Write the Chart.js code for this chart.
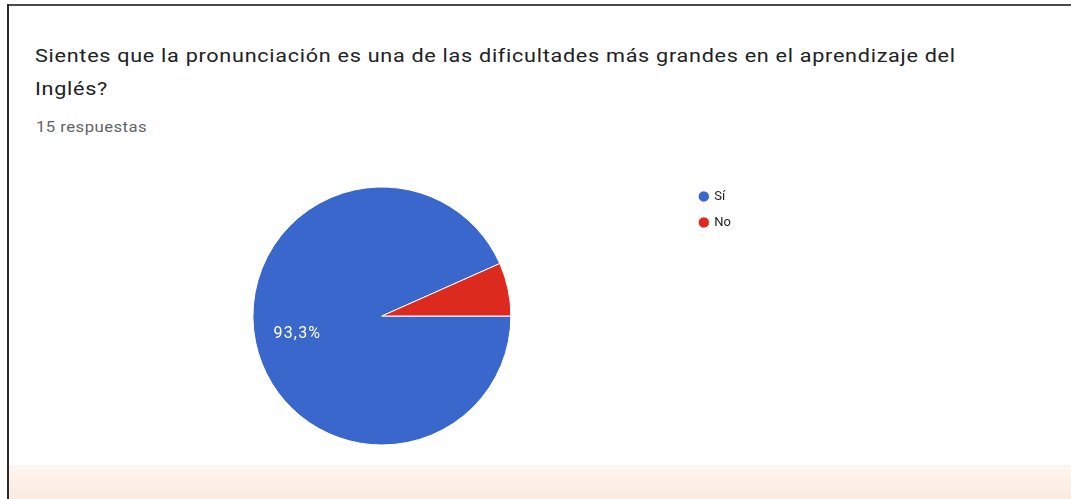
<!DOCTYPE html>
<html>
<head>
<meta charset="utf-8">
<script src="https://cdn.jsdelivr.net/npm/chart.js@4.4.1/dist/chart.umd.min.js"></script>
<style>
    html, body { margin: 0; padding: 0; background: #fff; }
    body { width: 1071px; height: 499px; position: relative; overflow: hidden; font-family: Roboto, Arial, sans-serif; }
    .card-top { position: absolute; left: 7px; top: 4px; right: 0; height: 2px; background: #4a4a4a; }
    .card-left { position: absolute; left: 7px; top: 4px; bottom: 0; width: 2px; background: #2a2a2a; }
    .footer { position: absolute; left: 9px; right: 0; top: 465px; bottom: 0; background: linear-gradient(#fdf6f0, #fbeadf); }
    .title { position: absolute; left: 35px; top: 39px; font-size: 18px; line-height: 33px; color: #202124; letter-spacing: 0.6px; white-space: nowrap; transform: scaleX(1.2); transform-origin: left top; }
    .count { position: absolute; left: 36px; top: 119px; font-size: 14px; line-height: 16px; color: #5f6368; letter-spacing: 0.4px; white-space: nowrap; transform: scaleX(1.19); transform-origin: left top; }
    #chartBox { position: absolute; left: 77px; top: 167px; width: 664px; height: 288px; }
</style>
</head>
<body>
<div class="card-top"></div>
<div class="card-left"></div>
<div class="footer"></div>
<div class="title">Sientes que la pronunciación es una de las dificultades más grandes en el aprendizaje del<br>Inglés?</div>
<div class="count">15 respuestas</div>
<div id="chartBox"><canvas id="pieChart"></canvas></div>

<script>
    // Data
    const labels = ['Sí', 'No'];
    const counts = [14, 1];
    const colors = ['#3a67cc', '#dc2a1f'];

    // Percentage labels inside slices (small slices skipped, like Forms does)
    const sliceLabels = {
        id: 'sliceLabels',
        afterDatasetsDraw(chart) {
            const ctx = chart.ctx;
            const meta = chart.getDatasetMeta(0);
            const total = counts.reduce((a, b) => a + b, 0);
            ctx.save();
            ctx.fillStyle = '#ffffff';
            ctx.font = '16px Roboto, Arial, sans-serif';
            ctx.letterSpacing = '1.2px';
            ctx.textAlign = 'center';
            ctx.textBaseline = 'middle';
            meta.data.forEach((arc, i) => {
                const pct = counts[i] / total * 100;
                if (pct < 10) return;
                const mid = (arc.startAngle + arc.endAngle) / 2;
                const d = arc.outerRadius * 0.67;
                const txt = pct.toFixed(1).replace('.', ',') + '%';
                ctx.fillText(txt, arc.x + Math.cos(mid) * d, arc.y + Math.sin(mid) * d);
            });
            ctx.restore();
        }
    };

    new Chart(document.getElementById('pieChart'), {
        type: 'pie',
        data: {
            labels: labels,
            datasets: [{
                data: counts,
                backgroundColor: colors,
                borderColor: '#ffffff',
                borderWidth: 1
            }]
        },
        options: {
            responsive: true,
            maintainAspectRatio: false,
            animation: false,
            rotation: 90,
            radius: 129,
            layout: { padding: { top: 10, bottom: 0 } },
            plugins: {
                tooltip: { enabled: false },
                legend: {
                    position: 'right',
                    align: 'start',
                    labels: {
                        usePointStyle: true,
                        pointStyle: 'circle',
                        boxWidth: 8,
                        boxHeight: 8,
                        padding: 13,
                        color: '#222222',
                        font: { size: 13, family: 'Roboto, Arial, sans-serif' }
                    }
                }
            }
        },
        plugins: [sliceLabels]
    });
</script>
</body>
</html>
